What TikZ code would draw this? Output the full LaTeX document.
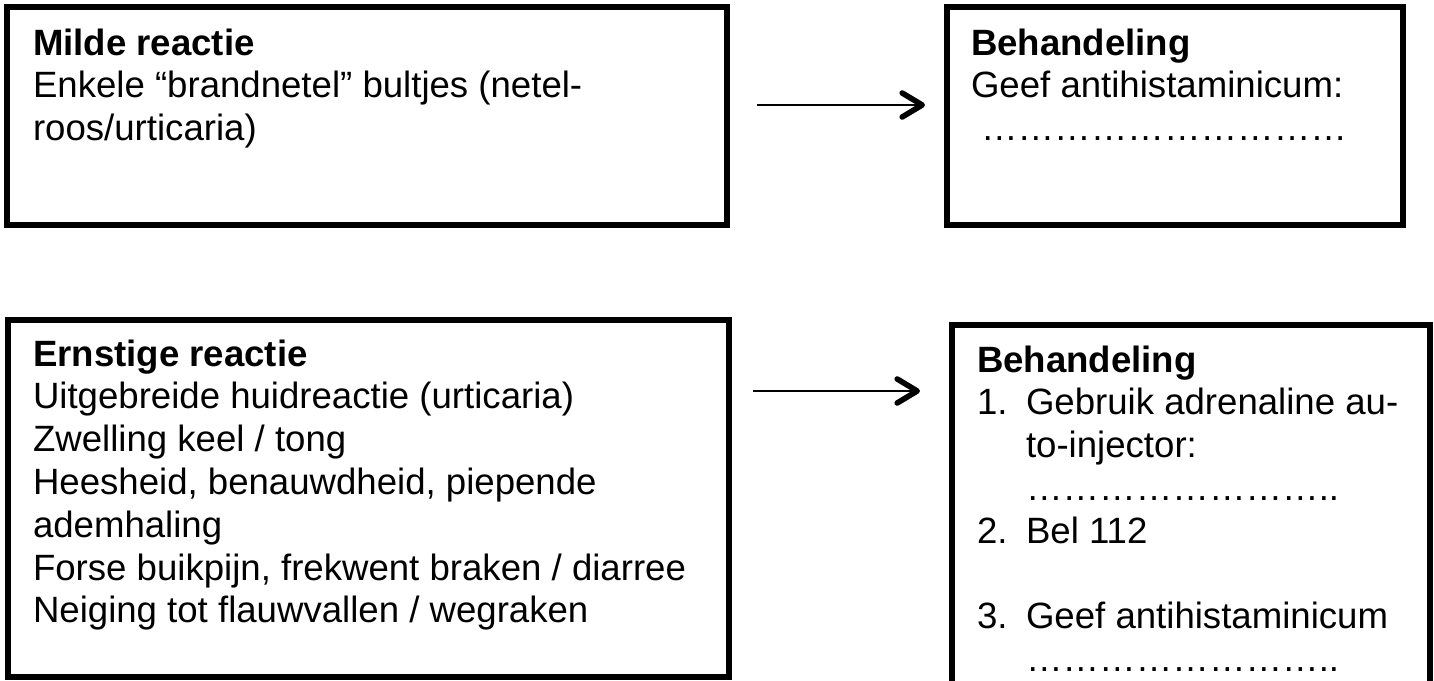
\documentclass[tikz,border=0pt]{standalone}
\usepackage{fontspec}
\setmainfont{Liberation Sans}
\usetikzlibrary{arrows.meta}
\newcommand\ddd{…}
\begin{document}
\begin{tikzpicture}[x=0.5pt,y=-0.5pt,
  box/.style={draw,line width=2.6pt,inner sep=0pt,outer sep=0pt,rectangle},
  txt/.style={anchor=base west,inner sep=0pt,outer sep=0pt,font=\fontsize{18.3pt}{21.4pt}\selectfont},
  arr/.style={line width=1.4pt,-{Straight Barb[length=10pt,width=12pt,line width=2.8pt,round]}}]
\useasboundingbox (0,0) rectangle (1434,680);
\clip (0,0) rectangle (1434,680);
% boxes
\node[box,minimum width=360pt,minimum height=109pt] (mild) at (367,116) {};
\node[box,minimum width=228pt,minimum height=109pt] (beh1) at (1175,116) {};
\node[box,minimum width=360.5pt,minimum height=178.5pt] (ernst) at (368.5,498.5) {};
\node[box,minimum width=239pt,minimum height=190pt] (beh2) at (1191,515) {};
% texts box 1
\node[txt] (m1) at (33,55) {\textbf{Milde reactie}};
\node[txt] (m2) at (33,97.8) {Enkele “brandnetel” bultjes (netel-};
\node[txt] (m3) at (33,140.6) {roos/urticaria)};
% texts box 2
\node[txt] (b1) at (971,55) {\textbf{Behandeling}};
\node[txt] (b2) at (971,97.8) {Geef antihistaminicum:};
\node[txt] (b3) at (981,140.6) {\ddd\ddd\ddd\ddd\ddd\ddd\ddd\ddd\ddd\ddd};
% texts box 3
\node[txt] (e1) at (33,366) {\textbf{Ernstige reactie}};
\node[txt] (e2) at (33,408.8) {Uitgebreide huidreactie (urticaria)};
\node[txt] (e3) at (33,451.6) {Zwelling keel / tong};
\node[txt] (e4) at (33,494.4) {Heesheid, benauwdheid, piepende};
\node[txt] (e5) at (33,537.2) {ademhaling};
\node[txt] (e6) at (33,580) {Forse buikpijn, frekwent braken / diarree};
\node[txt] (e7) at (33,622.8) {Neiging tot flauwvallen / wegraken};
% texts box 4
\node[txt] (f1) at (977,372) {\textbf{Behandeling}};
\node[txt] (f2n) at (977,414.8) {1.};
\node[txt] (f2) at (1026,414.8) {Gebruik adrenaline au-};
\node[txt] (f3) at (1026,457.6) {to-injector:};
\node[txt] (f4) at (1026,500.4) {\ddd\ddd\ddd\ddd\ddd\ddd\ddd\ddd..};
\node[txt] (f5n) at (977,543.2) {2.};
\node[txt] (f5) at (1026,543.2) {Bel 112};
\node[txt] (f6n) at (977,628.8) {3.};
\node[txt] (f6) at (1026,628.8) {Geef antihistaminicum};
\node[txt] (f7) at (1026,671.6) {\ddd\ddd\ddd\ddd\ddd\ddd\ddd\ddd..};
% arrows
\coordinate (a1s) at (757,105);
\coordinate (a1e) at (925,105);
\coordinate (a2s) at (753,391);
\coordinate (a2e) at (920,391);
\draw[arr] (a1s) -- (a1e);
\draw[arr] (a2s) -- (a2e);
\end{tikzpicture}
\end{document}
